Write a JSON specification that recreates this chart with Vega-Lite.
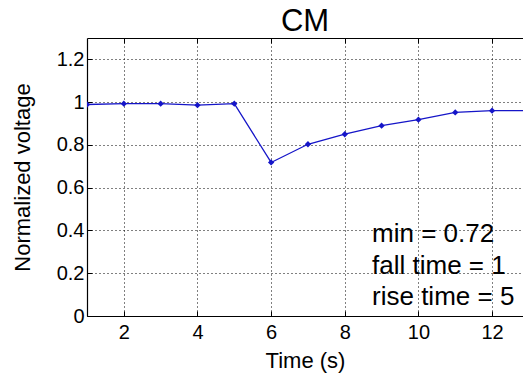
{
  "$schema": "https://vega.github.io/schema/vega-lite/v6.json",
  "width": 436,
  "height": 278,
  "autosize": {"type": "none"},
  "padding": {"left": 87, "top": 38, "right": 0, "bottom": 65},
  "background": "white",
  "config": {
    "view": {"stroke": null},
    "font": "Liberation Sans",
    "axis": {
      "domainColor": "black",
      "domainWidth": 1.2,
      "tickColor": "black",
      "tickSize": -5,
      "labelColor": "black",
      "titleColor": "black",
      "gridColor": "black",
      "gridDash": [1, 3],
      "gridOpacity": 1,
      "gridWidth": 1,
      "labelFont": "Liberation Sans",
      "titleFont": "Liberation Sans",
      "labelFontSize": 20,
      "titleFontSize": 22,
      "titleFontWeight": "normal"
    }
  },
  "title": {"text": "CM", "fontSize": 31, "fontWeight": "normal", "font": "Liberation Sans", "color": "black", "offset": 0, "anchor": "middle"},
  "data": {
    "values": [
      {"time": 1, "voltage": 0.989},
      {"time": 2, "voltage": 0.993},
      {"time": 3, "voltage": 0.993},
      {"time": 4, "voltage": 0.986},
      {"time": 5, "voltage": 0.993},
      {"time": 6, "voltage": 0.718},
      {"time": 7, "voltage": 0.803},
      {"time": 8, "voltage": 0.85},
      {"time": 9, "voltage": 0.89},
      {"time": 10, "voltage": 0.918},
      {"time": 11, "voltage": 0.952},
      {"time": 12, "voltage": 0.96},
      {"time": 13, "voltage": 0.96}
    ]
  },
  "resolve": {"axis": {"x": "independent"}},
  "layer": [
    {
      "mark": {"type": "line", "color": "#1515c8", "strokeWidth": 1.3, "clip": true},
      "encoding": {
        "x": {"field": "time", "type": "quantitative", "scale": {"domain": [1, 12.84], "nice": false, "zero": false},
          "axis": {"values": [2, 4, 6, 8, 10, 12], "title": "Time (s)", "grid": true, "labelPadding": 11, "titlePadding": 8, "labelFlush": false}},
        "y": {"field": "voltage", "type": "quantitative", "scale": {"domain": [0, 1.3], "nice": false},
          "axis": {"values": [0, 0.2, 0.4, 0.6, 0.8, 1, 1.2], "format": "~g", "title": "Normalized voltage", "grid": true, "labelPadding": 8, "titlePadding": 22}}
      }
    },
    {
      "mark": {"type": "point", "shape": "diamond", "filled": true, "size": 40, "color": "#1515c8", "opacity": 1, "clip": true},
      "encoding": {
        "x": {"field": "time", "type": "quantitative", "axis": null},
        "y": {"field": "voltage", "type": "quantitative"}
      }
    },
    {
      "data": {"values": [{"note": "stats"}]},
      "mark": {"type": "text", "align": "left", "baseline": "alphabetic", "fontSize": 26, "lineHeight": 31.5, "color": "black", "font": "Liberation Sans",
        "text": ["min = 0.72", "fall time = 1", "rise time = 5"]},
      "encoding": {
        "x": {"datum": 8.74, "type": "quantitative", "axis": null},
        "y": {"datum": 0.344, "type": "quantitative"}
      }
    },
    {
      "mark": {"type": "line", "opacity": 0},
      "encoding": {
        "x": {"field": "time", "type": "quantitative", "axis": {"orient": "top", "values": [2, 4, 6, 8, 10, 12], "labels": false, "title": null, "grid": false}},
        "y": {"field": "voltage", "type": "quantitative"}
      }
    }
  ]
}
